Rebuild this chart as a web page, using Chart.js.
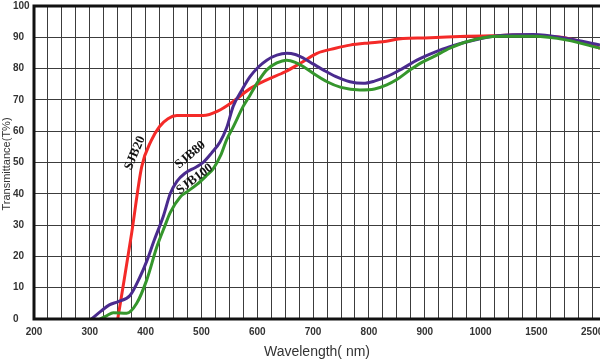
<!DOCTYPE html>
<html>
<head>
<meta charset="utf-8">
<script src="https://cdn.jsdelivr.net/npm/chart.js@4/dist/chart.umd.min.js"></script>
<style>
  html, body { margin: 0; padding: 0; background: #fff; }
  #wrap { width: 600px; height: 360px; position: relative; }
</style>
</head>
<body>
<div id="wrap"><canvas id="chart"></canvas></div>
<script>
// x axis is broken: 200..1000 every 100 nm, then 1500 and 2500 at the same spacing
const X_TICK_LABELS = ['200', '300', '400', '500', '600', '700', '800', '900', '1000', '1500', '2500'];

const SJB20_WL  = [350, 362, 375, 393, 410, 425, 440, 456, 480, 503, 530, 557, 587, 617, 650, 677, 707, 740, 766, 800, 825, 861, 900, 975, 1100, 1325, 1600, 2050, 2400, 2640];
const SJB20_VAL = [0, 13, 27.5, 48.7, 57, 61.5, 64, 65, 65, 65, 66.5, 69.5, 73.6, 76.4, 79, 81.7, 84.9, 86.5, 87.5, 88.2, 88.6, 89.6, 89.8, 90.3, 90.5, 90.7, 90.4, 89.7, 88, 86.5];

const SJB80_WL  = [303, 320, 335, 350, 372, 390, 402, 415, 432, 444, 456, 470, 490, 503, 518, 533, 545, 557, 572, 587, 602, 617, 635, 653, 668, 683, 700, 718, 740, 766, 790, 810, 832, 860, 886, 915, 945, 1005, 1150, 1475, 2050, 2640];
const SJB80_VAL = [0, 2.5, 4.5, 5.5, 7.5, 13.5, 18.5, 25, 33, 40, 44, 46.5, 48.5, 50, 53, 56.5, 61, 68, 73, 77.4, 80.5, 82.7, 84.3, 84.9, 84.5, 83.3, 81.5, 79.6, 77.5, 75.8, 75.3, 76, 77.4, 80, 82.7, 85, 87, 89.6, 90.5, 90.9, 89.6, 87.5];

const SJB100_WL  = [318, 330, 342, 366, 384, 402, 420, 435, 444, 462, 473, 492, 510, 521, 535, 545, 557, 575, 587, 602, 617, 635, 653, 668, 683, 700, 725, 750, 784, 810, 832, 850, 874, 895, 916, 945, 975, 1175, 1475, 2050, 2640];
const SJB100_VAL = [0, 1, 2, 1.8, 5, 12.5, 23, 30, 34, 39, 40.5, 43, 46, 48, 52.5, 57.2, 61.4, 68, 71.5, 76, 79.6, 81.8, 82.7, 82, 80.6, 78.5, 75.8, 74, 73.2, 73.5, 74.8, 76.5, 79.6, 82, 83.8, 86.5, 88.6, 90.3, 90.3, 89.1, 86.5];

// curve names written on the plot: [text, wavelength, value, angle]
const CURVE_TAGS = [
    ['SJB20', 381, 53, -67],
    ['SJB80', 480, 52.4, -40],
    ['SJB100', 488, 44.7, -37],
];

// wavelength -> position on the broken axis
function pos(wl) {
    if (wl <= 1000) return (wl - 200) / 100;
    if (wl <= 1500) return 8 + (wl - 1000) / 500;
    return 9 + (wl - 1500) / 1000;
}

const toPoints = (wl, val) => wl.map((w, i) => ({ x: pos(w), y: val[i] }));

const GRID = '#3c3c3c';
const TICK_FONT = { family: 'Liberation Sans', size: 10, weight: 'bold' };

const frameAndText = {
    id: 'frameAndText',
    afterDatasetsDraw(chart) {
        const { ctx, chartArea: a, scales } = chart;
        ctx.save();
        // thick frame: top, left, bottom
        ctx.strokeStyle = '#111';
        ctx.lineWidth = 3;
        ctx.beginPath();
        ctx.moveTo(a.right + 2, a.top);
        ctx.lineTo(a.left, a.top);
        ctx.lineTo(a.left, a.bottom);
        ctx.lineTo(a.right + 2, a.bottom);
        ctx.stroke();

        // curve names
        ctx.fillStyle = '#111';
        ctx.font = 'bold 13px "Liberation Serif"';
        ctx.textAlign = 'center';
        ctx.textBaseline = 'middle';
        CURVE_TAGS.forEach(([txt, wl, v, ang]) => {
            ctx.save();
            ctx.translate(scales.x.getPixelForValue(pos(wl)), scales.y.getPixelForValue(v));
            ctx.rotate(ang * Math.PI / 180);
            ctx.fillText(txt, 0, 0);
            ctx.restore();
        });

        // axis titles
        ctx.fillStyle = '#333';
        ctx.font = '14px "Liberation Sans"';
        ctx.fillText('Wavelength( nm)', (a.left + a.right) / 2, 352);
        ctx.save();
        ctx.translate(7, 164);
        ctx.rotate(-Math.PI / 2);
        ctx.font = '11px "Liberation Sans"';
        ctx.fillText('Transmittance(T%)', 0, 0);
        ctx.restore();
        ctx.restore();
    },
};

const line = (data, color) => ({
    data,
    borderColor: color,
    borderWidth: 3,
    pointRadius: 0,
    fill: false,
    cubicInterpolationMode: 'monotone',
});

new Chart(document.getElementById('chart'), {
    type: 'line',
    data: {
        datasets: [
            line(toPoints(SJB100_WL, SJB100_VAL), '#35962c'),
            line(toPoints(SJB80_WL, SJB80_VAL), '#4a2b8e'),
            line(toPoints(SJB20_WL, SJB20_VAL), '#f42a28'),
        ],
    },
    options: {
        responsive: true,
        maintainAspectRatio: false,
        animation: false,
        layout: { padding: { top: 6, right: 0, left: 13, bottom: 0 } },
        plugins: { legend: { display: false }, tooltip: { enabled: false } },
        scales: {
            x: {
                type: 'linear',
                min: 0,
                max: 10.14,
                afterFit: s => { s.height = 41; s.paddingLeft = 0; s.paddingRight = 0; },
                grid: { color: GRID, lineWidth: 1, drawTicks: false },
                border: { display: false },
                ticks: {
                    stepSize: 0.25,
                    includeBounds: false,
                    autoSkip: false,
                    maxRotation: 0,
                    padding: 7,
                    color: '#333',
                    font: TICK_FONT,
                    callback: v => Number.isInteger(v) ? X_TICK_LABELS[v] : '',
                },
            },
            y: {
                min: 0,
                max: 100,
                afterFit: s => { s.width = 21; s.paddingTop = 0; s.paddingBottom = 0; },
                grid: { color: GRID, lineWidth: 1, drawTicks: false },
                border: { display: false },
                ticks: {
                    stepSize: 10,
                    padding: 4,
                    crossAlign: 'far',
                    color: '#333',
                    font: TICK_FONT,
                },
            },
        },
    },
    plugins: [frameAndText],
});
</script>
</body>
</html>
